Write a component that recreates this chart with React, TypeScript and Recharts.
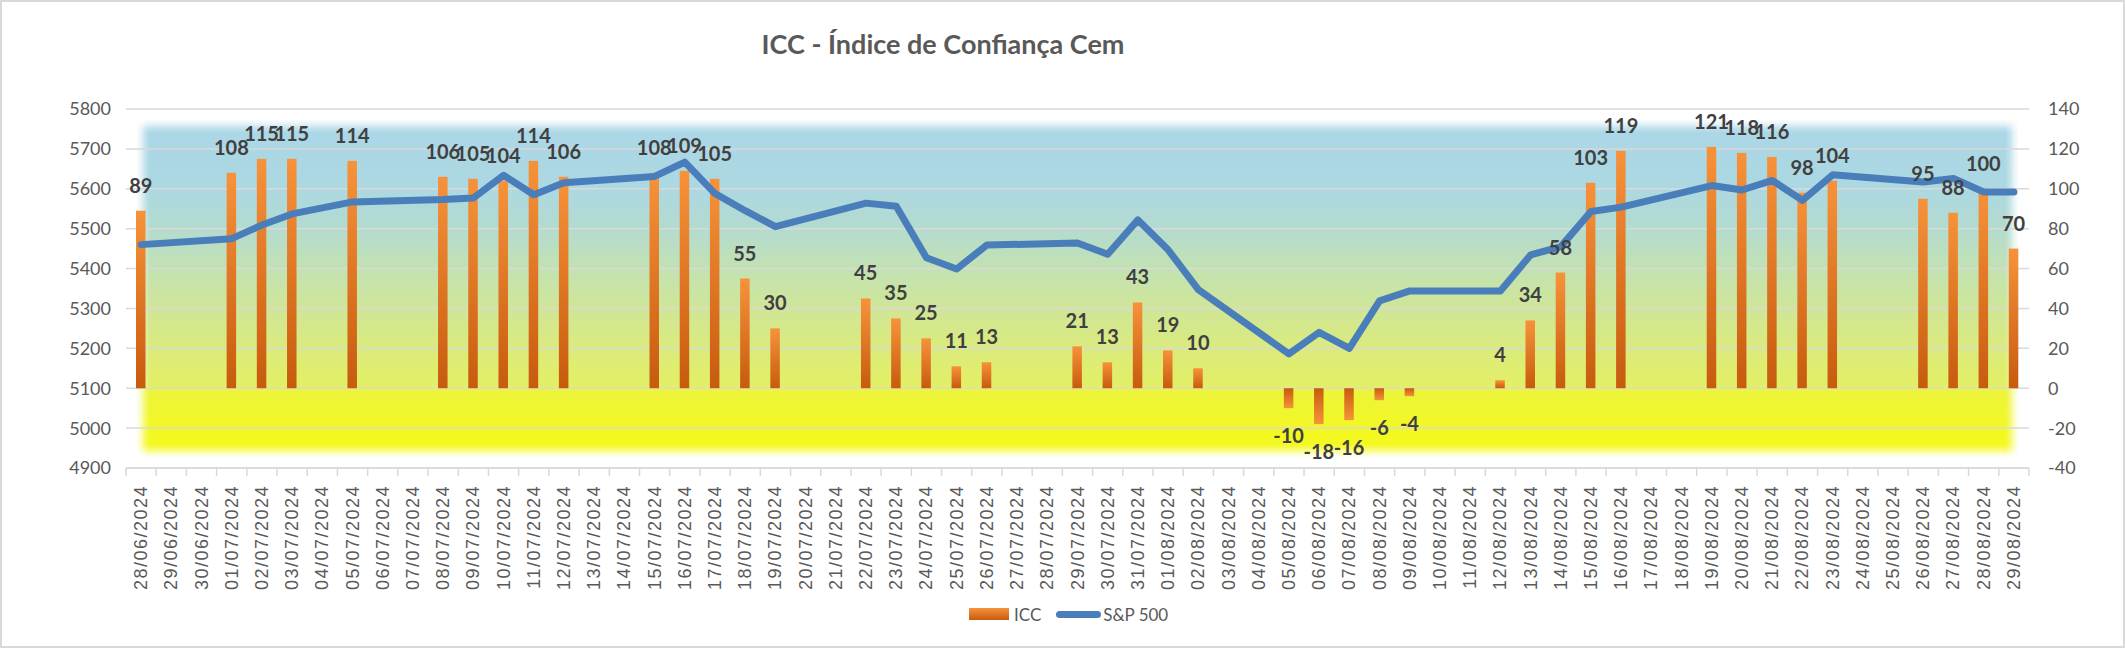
import {
  Bar,
  CartesianGrid,
  ComposedChart,
  LabelList,
  Legend,
  Line,
  XAxis,
  YAxis,
} from "recharts";

// Trading days between 28/06 and 29/08/2024; weekends/holidays have no value.
const dates = [
  "28/06/2024", "29/06/2024", "30/06/2024", "01/07/2024", "02/07/2024", "03/07/2024",
  "04/07/2024", "05/07/2024", "06/07/2024", "07/07/2024", "08/07/2024", "09/07/2024",
  "10/07/2024", "11/07/2024", "12/07/2024", "13/07/2024", "14/07/2024", "15/07/2024",
  "16/07/2024", "17/07/2024", "18/07/2024", "19/07/2024", "20/07/2024", "21/07/2024",
  "22/07/2024", "23/07/2024", "24/07/2024", "25/07/2024", "26/07/2024", "27/07/2024",
  "28/07/2024", "29/07/2024", "30/07/2024", "31/07/2024", "01/08/2024", "02/08/2024",
  "03/08/2024", "04/08/2024", "05/08/2024", "06/08/2024", "07/08/2024", "08/08/2024",
  "09/08/2024", "10/08/2024", "11/08/2024", "12/08/2024", "13/08/2024", "14/08/2024",
  "15/08/2024", "16/08/2024", "17/08/2024", "18/08/2024", "19/08/2024", "20/08/2024",
  "21/08/2024", "22/08/2024", "23/08/2024", "24/08/2024", "25/08/2024", "26/08/2024",
  "27/08/2024", "28/08/2024", "29/08/2024",
];

const iccValues: (number | null)[] = [
  89, null, null, 108, 115, 115,
  null, 114, null, null, 106, 105,
  104, 114, 106, null, null, 108,
  109, 105, 55, 30, null, null,
  45, 35, 25, 11, 13, null,
  null, 21, 13, 43, 19, 10,
  null, null, -10, -18, -16, -6,
  -4, null, null, 4, 34, 58,
  103, 119, null, null, 121, 118,
  116, 98, 104, null, null, 95,
  88, 100, 70,
];

const sp500Values: (number | null)[] = [
  5460, null, null, 5475, 5509, 5537,
  null, 5567, null, null, 5573, 5577,
  5634, 5585, 5615, null, null, 5631,
  5667, 5588, 5545, 5505, null, null,
  5564, 5556, 5427, 5399, 5459, null,
  null, 5464, 5436, 5522, 5447, 5347,
  null, null, 5186, 5240, 5200, 5319,
  5344, null, null, 5344, 5434, 5455,
  5543, 5554, null, null, 5608, 5597,
  5621, 5571, 5635, null, null, 5617,
  5626, 5592, 5592,
];

const leftTicks = [4900, 5000, 5100, 5200, 5300, 5400, 5500, 5600, 5700, 5800];
const rightTicks = [-40, -20, 0, 20, 40, 60, 80, 100, 120, 140];

const chartData = dates.map((date, i) => ({
  date,
  icc: iccValues[i],
  sp500: sp500Values[i],
}));

const WIDTH = 2125;
const HEIGHT = 648;
const AXIS_TEXT = "#595959";
const LABEL_TEXT = "#404040";
const GRID = "#d9d9d9";
const LINE_BLUE = "#4a7ebb";
const ORANGE_LIGHT = "#f7923a";
const ORANGE_DARK = "#c75b0e";

// soft-edge strip sizes, as a fraction of the plot area (about 24px each way)
const FADE_X = 0.0126;
const FADE_Y = 0.0669;

// bar shape: gradient runs from the zero line (dark) to the value end (light)
function IccBar(props: any) {
  const { x, y, width, height, payload } = props;
  if (payload?.icc == null || !height) return null;
  const top = Math.min(y, y + height);
  const h = Math.abs(height);
  const fill = payload.icc >= 0 ? "url(#iccPos)" : "url(#iccNeg)";
  return <rect x={x} y={top} width={width} height={h} fill={fill} />;
}

function renderBarLabel(props: any) {
  const vb = props.viewBox ?? props;
  const { x, y, width, height } = vb;
  const value = props.value;
  if (value == null || x == null) return null;
  const top = Math.min(y, y + height);
  const bottom = Math.max(y, y + height);
  const ty = value >= 0 ? top - 18 : bottom + 35;
  return (
    <text
      x={x + width / 2}
      y={ty}
      textAnchor="middle"
      fontFamily="Lato, sans-serif"
      fontWeight={700}
      fontSize={20}
      fill={LABEL_TEXT}
    >
      {value}
    </text>
  );
}

// Excel puts the category tick marks on the boundaries, not the centres
function DateTick(props: any) {
  const { x, y, payload, index } = props;
  const half = payload?.offset > 0 ? payload.offset : 15.1;
  const isLast = index === dates.length - 1;
  return (
    <g>
      <line x1={x - half} x2={x - half} y1={y - 17} y2={y - 9} stroke={GRID} strokeWidth={1.5} />
      {isLast && (
        <line x1={x + half} x2={x + half} y1={y - 17} y2={y - 9} stroke={GRID} strokeWidth={1.5} />
      )}
      <text
        x={x}
        y={y}
        transform={`rotate(-90 ${x} ${y})`}
        textAnchor="end"
        dominantBaseline="central"
        fontFamily="'Liberation Sans', Arial, sans-serif"
        fontSize={18}
        letterSpacing={1.5}
        fill={AXIS_TEXT}
      >
        {payload.value}
      </text>
    </g>
  );
}

function LegendContent() {
  return (
    <div
      style={{
        display: "flex",
        alignItems: "center",
        height: 22,
        fontFamily: "Lato, sans-serif",
        fontSize: 17,
        color: AXIS_TEXT,
        whiteSpace: "nowrap",
      }}
    >
      <span
        style={{
          display: "inline-block",
          width: 40,
          height: 12,
          marginRight: 5,
          background: `linear-gradient(${ORANGE_LIGHT}, ${ORANGE_DARK})`,
        }}
      />
      <span style={{ marginRight: 15 }}>ICC</span>
      <span
        style={{
          display: "inline-block",
          width: 45,
          height: 7,
          borderRadius: 4,
          marginRight: 2,
          background: LINE_BLUE,
        }}
      />
      <span>S&amp;P 500</span>
    </div>
  );
}

function FadeStops() {
  return (
    <>
      <stop offset="0%" stopColor="#fff" stopOpacity={1} />
      <stop offset="42%" stopColor="#fff" stopOpacity={1} />
      <stop offset="62%" stopColor="#fff" stopOpacity={0.7} />
      <stop offset="82%" stopColor="#fff" stopOpacity={0.25} />
      <stop offset="100%" stopColor="#fff" stopOpacity={0} />
    </>
  );
}

export default function App() {
  return (
    <div style={{ position: "relative", width: WIDTH, height: HEIGHT, background: "#fff" }}>
      <style>{`body { margin: 0; }`}</style>

      {/* shared paint servers for the plot background and the bars */}
      <svg width={0} height={0} style={{ position: "absolute" }}>
        <defs>
          <linearGradient id="plotBg" x1="0" y1="0" x2="0" y2="1">
            <stop offset="0%" stopColor="#a9d6e8" />
            <stop offset="9%" stopColor="#abd7e6" />
            <stop offset="22%" stopColor="#acd8e2" />
            <stop offset="33%" stopColor="#b3dbd0" />
            <stop offset="45%" stopColor="#c3e2b1" />
            <stop offset="56%" stopColor="#d0e696" />
            <stop offset="67%" stopColor="#dbeb7c" />
            <stop offset="77.4%" stopColor="#e3ef64" />
            <stop offset="78%" stopColor="#ecf43c" />
            <stop offset="89%" stopColor="#f3f822" />
            <stop offset="100%" stopColor="#f5f91c" />
          </linearGradient>
          <linearGradient id="fadeL" x1="0" y1="0" x2="1" y2="0"><FadeStops /></linearGradient>
          <linearGradient id="fadeR" x1="1" y1="0" x2="0" y2="0"><FadeStops /></linearGradient>
          <linearGradient id="fadeT" x1="0" y1="0" x2="0" y2="1"><FadeStops /></linearGradient>
          <linearGradient id="fadeB" x1="0" y1="1" x2="0" y2="0"><FadeStops /></linearGradient>
          {/* plot area fill with Excel-like soft edges fading to white */}
          <pattern
            id="plotFill"
            patternUnits="objectBoundingBox"
            patternContentUnits="objectBoundingBox"
            x="0"
            y="0"
            width="1"
            height="1"
          >
            <rect x="0" y="0" width="1" height="1" fill="url(#plotBg)" />
            <rect x="0" y="0" width={FADE_X} height="1" fill="url(#fadeL)" />
            <rect x={1 - FADE_X} y="0" width={FADE_X} height="1" fill="url(#fadeR)" />
            <rect x="0" y="0" width="1" height={FADE_Y} fill="url(#fadeT)" />
            <rect x="0" y={1 - FADE_Y} width="1" height={FADE_Y} fill="url(#fadeB)" />
          </pattern>
          <linearGradient id="iccPos" x1="0" y1="0" x2="0" y2="1">
            <stop offset="0%" stopColor={ORANGE_LIGHT} />
            <stop offset="100%" stopColor={ORANGE_DARK} />
          </linearGradient>
          <linearGradient id="iccNeg" x1="0" y1="0" x2="0" y2="1">
            <stop offset="0%" stopColor={ORANGE_DARK} />
            <stop offset="100%" stopColor={ORANGE_LIGHT} />
          </linearGradient>
        </defs>
      </svg>

      <ComposedChart
        width={WIDTH}
        height={HEIGHT}
        data={chartData}
        margin={{ top: 109, right: 0, bottom: 0, left: 0 }}
      >
        <CartesianGrid
          yAxisId="left"
          vertical={false}
          stroke={GRID}
          strokeWidth={1.5}
          fill="url(#plotFill)"
          fillOpacity={1}
        />
        <XAxis
          dataKey="date"
          interval={0}
          height={180}
          tickSize={8}
          tickMargin={9}
          tickLine={false}
          axisLine={{ stroke: GRID, strokeWidth: 1.5 }}
          tick={<DateTick />}
        />
        <YAxis
          yAxisId="left"
          orientation="left"
          domain={[4900, 5800]}
          ticks={leftTicks}
          allowDataOverflow
          width={126}
          tickSize={0}
          tickMargin={15}
          axisLine={false}
          tickLine={false}
          tick={{ fontSize: 18, fill: AXIS_TEXT, fontFamily: "Lato, sans-serif" }}
        />
        <YAxis
          yAxisId="right"
          orientation="right"
          domain={[-40, 140]}
          ticks={rightTicks}
          allowDataOverflow
          width={96}
          tickSize={0}
          tickMargin={19}
          axisLine={false}
          tickLine={false}
          tick={{ fontSize: 18, fill: AXIS_TEXT, fontFamily: "Lato, sans-serif" }}
        />
        <Bar
          yAxisId="right"
          dataKey="icc"
          name="ICC"
          barSize={9.5}
          shape={<IccBar />}
          isAnimationActive={false}
        >
          <LabelList dataKey="icc" content={renderBarLabel} />
        </Bar>
        <Line
          yAxisId="left"
          dataKey="sp500"
          name="S&P 500"
          type="linear"
          stroke={LINE_BLUE}
          strokeWidth={7}
          strokeLinejoin="round"
          strokeLinecap="round"
          dot={false}
          activeDot={false}
          connectNulls
          isAnimationActive={false}
        />
        <Legend
          layout="horizontal"
          verticalAlign="middle"
          align="center"
          content={<LegendContent />}
          wrapperStyle={{ left: 969, top: 603, width: "auto", height: 22 }}
        />
      </ComposedChart>

      <div
        style={{
          position: "absolute",
          left: 0,
          top: 28,
          width: 1886,
          textAlign: "center",
          fontFamily: "Lato, sans-serif",
          fontWeight: 700,
          fontSize: 27,
          lineHeight: "32px",
          color: AXIS_TEXT,
          pointerEvents: "none",
        }}
      >
        ICC - Índice de Confiança Cem
      </div>

      <div
        style={{
          position: "absolute",
          inset: 0,
          border: `2px solid ${GRID}`,
          pointerEvents: "none",
        }}
      />
    </div>
  );
}
